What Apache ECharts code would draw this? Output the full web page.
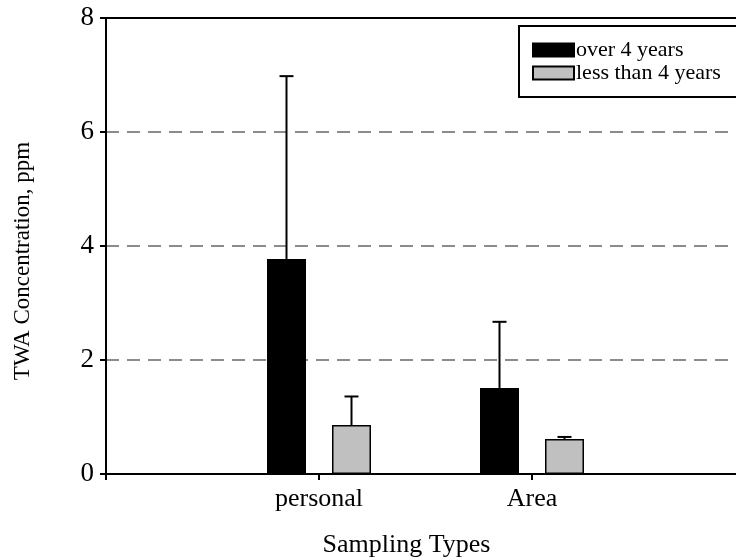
<!DOCTYPE html>
<html>
<head>
<meta charset="utf-8">
<script src="https://cdn.jsdelivr.net/npm/echarts@6/dist/echarts.min.js"></script>
<style>
  html, body { margin: 0; padding: 0; background: #fff; }
  #chart { width: 736px; height: 557px; }
</style>
</head>
<body>
<div id="chart"></div>
<script>
// empty categories at the ends keep the groups where the original puts them
const categories = ['', 'personal', 'Area', '']
const seriesNames = ['over 4 years', 'less than 4 years']
const over4 = [null, 3.77, 1.51, null]
const over4Sd = [null, 3.21, 1.16, null]
const less4 = [null, 0.86, 0.615, null]
const less4Sd = [null, 0.50, 0.035, null]
const yTicks = [0, 2, 4, 6, 8]

const font = 'Liberation Serif'
const barWidth = 39
const barGap = 26

function errorSeries(values, sds, offset) {
    let data = []
    for (let i = 0; i < values.length; i++) {
        if (values[i] == null) continue
        data.push([i, values[i], values[i] + sds[i]])
    }
    return {
        type: 'custom',
        silent: true,
        z: 5,
        data: data,
        renderItem: function (params, api) {
            let low = api.coord([api.value(0), api.value(1)])
            let high = api.coord([api.value(0), api.value(2)])
            let x = low[0] + offset
            let style = { stroke: '#000', lineWidth: 2 }
            return {
                type: 'group',
                children: [
                    { type: 'line', shape: { x1: x, y1: low[1], x2: x, y2: high[1] }, style: style },
                    { type: 'line', shape: { x1: x - 7, y1: high[1], x2: x + 7, y2: high[1] }, style: style }
                ]
            }
        }
    }
}

let chart = echarts.init(document.getElementById('chart'))
let half = (barWidth + barGap) / 2
let option = {
    animation: false,
    backgroundColor: '#fff',
    textStyle: { fontFamily: font, color: '#000' },
    grid: {
        left: 106, top: 18, width: 639, height: 456,
        containLabel: false, outerBoundsMode: 'none',
        show: true, borderColor: '#000', borderWidth: 2, backgroundColor: 'transparent'
    },
    legend: {
        orient: 'vertical',
        left: 519, top: 26,
        padding: [13, 30, 13, 13],
        itemWidth: 41, itemHeight: 13, itemGap: 1,
        icon: 'rect',
        borderColor: '#000', borderWidth: 2,
        textStyle: { fontFamily: font, fontSize: 22, color: '#000', padding: [0, 0, 0, -3] },
        data: seriesNames
    },
    xAxis: {
        type: 'category',
        data: categories,
        boundaryGap: false,
        name: 'Sampling Types',
        nameLocation: 'middle',
        nameGap: 58,
        nameTextStyle: { fontFamily: font, fontSize: 26, color: '#000', padding: [0, 38, 0, 0] },
        axisLine: { lineStyle: { color: '#000', width: 2 } },
        axisTick: { length: 6, lineStyle: { color: '#000', width: 2 } },
        axisLabel: { fontFamily: font, fontSize: 26, color: '#000', margin: 12 },
        splitLine: { show: false }
    },
    yAxis: {
        type: 'value',
        min: 0, max: 8, interval: 2,
        name: 'TWA Concentration, ppm',
        nameLocation: 'middle',
        nameGap: 72,
        nameTextStyle: { fontFamily: font, fontSize: 23, color: '#000', padding: [0, 30, 0, 0] },
        axisLine: { show: true, lineStyle: { color: '#000', width: 2 } },
        axisTick: { show: true, length: 6, lineStyle: { color: '#000', width: 2 } },
        axisLabel: {
            fontFamily: font, fontSize: 27, color: '#000', margin: 12,
            formatter: v => yTicks.includes(v) ? String(v) : ''
        },
        splitLine: {
            showMinLine: false, showMaxLine: false,
            lineStyle: { color: '#8c8c8c', width: 2, type: [13, 8] }
        }
    },
    series: [
        {
            name: seriesNames[0], type: 'bar', data: over4,
            barWidth: barWidth, barGap: (barGap / barWidth * 100) + '%',
            itemStyle: { color: '#000', borderColor: '#000', borderWidth: 1.5 }
        },
        {
            name: seriesNames[1], type: 'bar', data: less4,
            barWidth: barWidth,
            itemStyle: { color: '#c0c0c0', borderColor: '#000', borderWidth: 1.5 }
        },
        errorSeries(over4, over4Sd, -half),
        errorSeries(less4, less4Sd, half)
    ]
}
chart.setOption(option)
</script>
</body>
</html>
